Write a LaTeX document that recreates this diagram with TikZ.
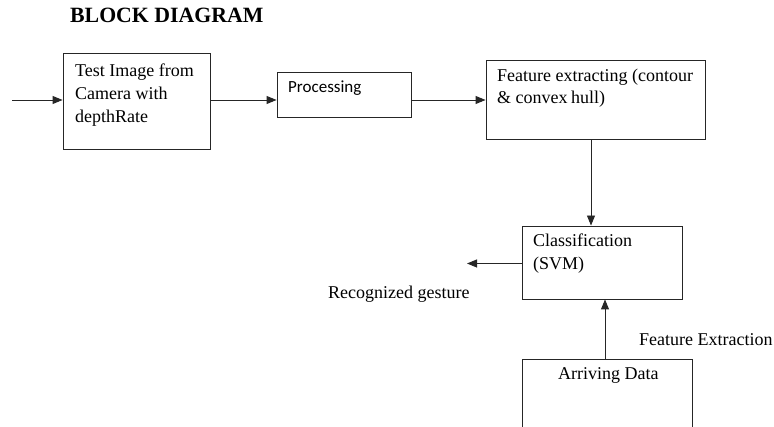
\documentclass[tikz,border=0pt]{standalone}
\usepackage{fontspec}
\setmainfont{Liberation Serif}
\newfontfamily\calib{Carlito}
\usetikzlibrary{arrows.meta}
\begin{document}
\begin{tikzpicture}[x=1pt,y=-1pt,
  box/.style={draw=black!85,line width=0.9pt,rectangle,inner sep=0pt},
  txt/.style={anchor=base west,inner sep=0pt,font=\fontsize{18}{23}\selectfont},
  arr/.style={draw=black!85,line width=0.9pt,-{Triangle[length=10pt,width=8pt]}}]
\useasboundingbox (0,0) rectangle (774,427);
\node[anchor=base west,inner sep=0pt,font=\fontsize{21.8}{26}\selectfont\bfseries] (title) at (70,23) {BLOCK DIAGRAM};
% boxes
\node[box,minimum width=147pt,minimum height=96pt] (b1) at (136.5,101) {};
\node[box,minimum width=134pt,minimum height=45pt] (b2) at (344,94.5) {};
\node[box,minimum width=219pt,minimum height=79pt] (b3) at (595.5,99.5) {};
\node[box,minimum width=160pt,minimum height=73pt] (b4) at (602,262.5) {};
\node[box,minimum width=170pt,minimum height=110pt] (b5) at (607,414) {};
% texts
\node[txt] (t1a) at (75,77) {Test Image from};
\node[txt] (t1b) at (75,100) {Camera with};
\node[txt] (t1c) at (75,123) {depthRate};
\node[txt,font=\calib\fontsize{17}{22}\selectfont] (t2) at (288,93) {Processing};
\node[txt] (t3a) at (497,82) {Feature extracting (contour};
\node[txt] (t3b) at (497,104) {\& convex\kern-1pt\ hull)};
\node[txt] (t4a) at (533,247) {Classification};
\node[txt] (t4b) at (533,270) {(SVM)};
\node[txt] (t5) at (558,380) {Arriving Data};
\node[txt] (lrec) at (328,299) {Recognized gesture};
\node[txt] (lfe) at (639,346) {Feature Extraction};
% connectors
\coordinate (in) at (12,100);
\coordinate (out) at (467,263.5);
\draw[arr] (in) -- (in -| b1.west);
\draw[arr] (b1.east |- 0,100) -- (b2.west |- 0,100);
\draw[arr] (b2.east |- 0,100) -- (b3.west |- 0,100);
\draw[arr] ([xshift=-4.5pt]b3.south) -- ([xshift=-4.5pt]b3.south |- b4.north);
\draw[arr] (b4.west |- out) -- (out);
\draw[arr] ([xshift=-2pt]b5.north) -- ([xshift=-2pt]b5.north |- b4.south);
\end{tikzpicture}
\end{document}
